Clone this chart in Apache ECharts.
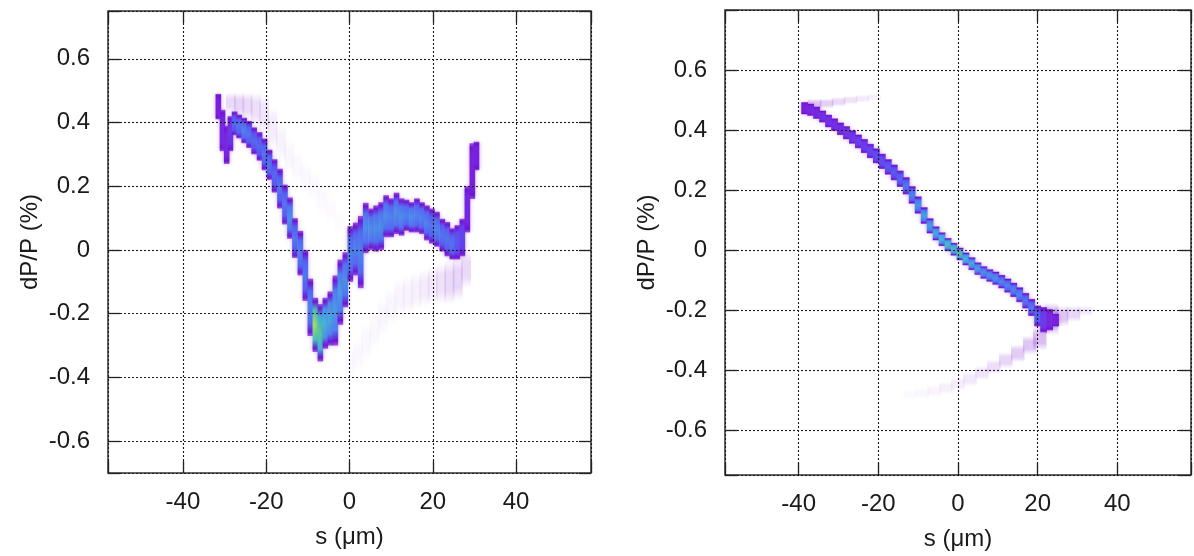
<!DOCTYPE html>
<html><head><meta charset="utf-8">
<script src="https://cdn.jsdelivr.net/npm/echarts@6/dist/echarts.min.js"></script>
<style>html,body{margin:0;padding:0;background:#fff}#c{width:1194px;height:556px}</style>
</head><body><div id="c"></div>
<script>
// ---------- data ----------
// left panel: main band columns (s in µm, dP/P low / high in %, relative density 0..1)
const leftBandS    = [-31.5,-30.5,-29.5,-28.6,-27.6,-26.5,-25.3,-24.1,-22.9,-21.6,-20.4,-19.2,-18,-16.7,-15.5,-14.3,-13.1,-11.8,-10.6,-9.4,-8.2,-7,-5.8,-4.6,-3.4,-2.2,-1,0.2,1.5,2.7,3.9,5.2,6.4,7.6,8.8,10,11.3,12.5,13.7,14.9,16.2,17.4,18.6,19.8,21,22.3,23.5,24.7,25.9,27.1,28.3,29.5,30.5];
const leftBandLo   = [0.41,0.31,0.27,0.31,0.36,0.35,0.335,0.32,0.30,0.28,0.25,0.22,0.18,0.13,0.08,0.035,-0.025,-0.08,-0.16,-0.27,-0.32,-0.35,-0.31,-0.30,-0.30,-0.235,-0.18,-0.10,-0.08,-0.12,-0.01,0.0,-0.005,0.0,0.04,0.04,0.05,0.045,0.06,0.055,0.055,0.05,0.03,0.02,0.01,-0.005,-0.02,-0.03,-0.03,-0.02,0.055,0.16,0.25];
const leftBandHi   = [0.49,0.44,0.39,0.42,0.435,0.425,0.415,0.405,0.385,0.37,0.35,0.315,0.285,0.255,0.205,0.165,0.10,0.06,0.0,-0.09,-0.15,-0.17,-0.15,-0.13,-0.08,-0.03,-0.007,0.075,0.086,0.107,0.148,0.13,0.14,0.15,0.172,0.162,0.18,0.162,0.158,0.15,0.162,0.15,0.14,0.13,0.12,0.098,0.088,0.068,0.078,0.098,0.20,0.335,0.34];
const leftBandPeak = [0,0.05,0.05,0.15,0.4,0.45,0.5,0.45,0.4,0.4,0.45,0.45,0.4,0.45,0.45,0.55,0.45,0.5,0.45,0.5,0.95,0.85,0.7,0.65,0.6,0.6,0.55,0.5,0.5,0.5,0.55,0.55,0.55,0.55,0.55,0.5,0.55,0.55,0.5,0.55,0.5,0.5,0.5,0.45,0.5,0.45,0.45,0.45,0.35,0.25,0.05,0,0];
// left panel: faint halo columns (s, low, high, opacity)
const leftHaloS  = [-28.5,-26.5,-24.5,-22.5,-20.5,-18.5,-16.5,-14.5,-12.5,-10.5,-8.5,-6.5,-4.5,-2.5, 28,26,24,22,20,18,16,14,12,10,8,6,4,2,0];
const leftHaloLo = [0.43,0.42,0.41,0.39,0.36,0.32,0.28,0.24,0.21,0.18,0.15,0.11,0.08,0.05, -0.12,-0.16,-0.17,-0.17,-0.17,-0.18,-0.19,-0.20,-0.21,-0.24,-0.27,-0.31,-0.35,-0.39,-0.42];
const leftHaloHi = [0.495,0.495,0.495,0.495,0.49,0.45,0.40,0.35,0.31,0.28,0.25,0.21,0.17,0.13, 0.0,-0.02,-0.03,-0.04,-0.05,-0.06,-0.07,-0.08,-0.09,-0.12,-0.15,-0.19,-0.23,-0.27,-0.31];
const leftHaloA  = [0.2,0.22,0.2,0.17,0.14,0.1,0.07,0.05,0.04,0.035,0.03,0.03,0.025,0.02, 0.2,0.22,0.2,0.16,0.12,0.1,0.08,0.07,0.06,0.05,0.05,0.045,0.04,0.035,0.03];

// right panel: main band columns
const rightBandS    = [-38.5,-37,-35.5,-34,-32.5,-31,-29.5,-28,-26.5,-25,-23.5,-22,-20.5,-19,-17.5,-16,-14.5,-13,-11.5,-10,-8.5,-7,-5.5,-4,-2.5,-1,0.5,2,3.5,5,6.5,8,9.5,11,12.5,14,15.5,17,18.5,20,21.5,23,24.5];
const rightBandLo   = [0.452,0.447,0.437,0.425,0.409,0.397,0.383,0.369,0.354,0.339,0.323,0.306,0.289,0.27,0.251,0.232,0.21,0.185,0.154,0.121,0.087,0.055,0.032,0.013,-0.004,-0.019,-0.034,-0.051,-0.067,-0.083,-0.096,-0.106,-0.116,-0.128,-0.142,-0.157,-0.174,-0.195,-0.22,-0.255,-0.275,-0.268,-0.255];
const rightBandHi   = [0.493,0.488,0.478,0.465,0.451,0.439,0.425,0.413,0.399,0.385,0.37,0.354,0.339,0.321,0.303,0.285,0.265,0.243,0.213,0.179,0.143,0.106,0.079,0.059,0.04,0.024,0.008,-0.008,-0.024,-0.041,-0.054,-0.064,-0.072,-0.083,-0.095,-0.109,-0.124,-0.143,-0.163,-0.185,-0.19,-0.197,-0.212];
const rightBandPeak = [0,0.05,0.05,0.1,0.1,0.1,0.1,0.15,0.15,0.2,0.2,0.25,0.3,0.3,0.35,0.35,0.4,0.45,0.5,0.55,0.6,0.6,0.65,0.7,0.75,0.75,0.8,0.7,0.65,0.6,0.55,0.55,0.55,0.5,0.5,0.5,0.5,0.45,0.45,0.4,0.2,0.05,0];
// right panel: faint streaks
const rightHaloS  = [-36,-33,-30,-27,-24,-21, 23.5,26,29,32, 20.5,18,15,12,9,6,3,0,-3,-6,-9,-12];
const rightHaloLo = [0.465,0.472,0.478,0.485,0.491,0.496, -0.285,-0.255,-0.24,-0.22, -0.335,-0.35,-0.375,-0.395,-0.415,-0.435,-0.455,-0.47,-0.482,-0.49,-0.495,-0.5];
const rightHaloHi = [0.505,0.505,0.51,0.514,0.518,0.522, -0.175,-0.185,-0.185,-0.185, -0.255,-0.285,-0.315,-0.34,-0.365,-0.385,-0.405,-0.423,-0.438,-0.45,-0.458,-0.465];
const rightHaloA  = [0.3,0.25,0.2,0.15,0.11,0.07, 0.4,0.3,0.22,0.12, 0.35,0.3,0.27,0.22,0.18,0.15,0.12,0.1,0.08,0.06,0.045,0.03];

// ---------- styling helpers ----------
const FONT = '"Liberation Sans", Arial, Helvetica, sans-serif';
const PAL = [[0,[122,31,220]],[0.3,[90,78,242]],[0.5,[74,134,240]],[0.7,[63,186,216]],[0.85,[77,212,143]],[1,[191,240,67]]];
function pal(t){
  t = Math.max(0, Math.min(1, t));
  for (let i = 1; i < PAL.length; i++) {
    if (t <= PAL[i][0]) {
      const a = PAL[i-1], b = PAL[i], f = (t - a[0]) / (b[0] - a[0]);
      const c = a[1].map((v, k) => Math.round(v + (b[1][k] - v) * f));
      return 'rgb(' + c.join(',') + ')';
    }
  }
  return 'rgb(' + PAL[PAL.length-1][1].join(',') + ')';
}
function zip4(a,b,c,d){ return a.map((s,i)=>[s,b[i],c[i],d[i]]); }

function bandRender(binW){
  return function(params, api){
    const s = api.value(0), pk = api.value(3);
    const p = api.coord([s - binW/2, api.value(2)]);
    const q = api.coord([s + binW/2, api.value(1)]);
    const edge = '#6c16d2', core = pal(pk), mid = pal(pk*0.8);
    return {
      type: 'rect',
      shape: {x: p[0], y: p[1], width: q[0]-p[0], height: q[1]-p[1]},
      style: {
        fill: {type:'linear', x:0, y:0, x2:0, y2:1, colorStops:[
          {offset:0, color:'rgba(130,40,215,0.75)'},
          {offset:0.07, color:edge},
          {offset:0.22, color:mid},
          {offset:0.5, color:core},
          {offset:0.78, color:mid},
          {offset:0.93, color:edge},
          {offset:1, color:'rgba(130,40,215,0.75)'}]},
        shadowBlur: 4, shadowColor: 'rgba(140,60,225,0.45)'
      }
    };
  };
}
function haloRender(binW){
  return function(params, api){
    const s = api.value(0), al = api.value(3);
    const p = api.coord([s - binW/2, api.value(2)]);
    const q = api.coord([s + binW/2, api.value(1)]);
    const c = 'rgba(150,70,215,' + al + ')';
    return {
      type: 'rect',
      shape: {x: p[0], y: p[1], width: q[0]-p[0], height: q[1]-p[1]},
      style: {fill: {type:'linear', x:0, y:0, x2:0, y2:1, colorStops:[
        {offset:0, color:'rgba(150,70,215,0)'},
        {offset:0.3, color:c},
        {offset:0.7, color:c},
        {offset:1, color:'rgba(150,70,215,0)'}]}}
    };
  };
}

const labelStyle = {fontSize: 24, color: '#1a1a1a', fontFamily: FONT};
const gridLine = {color:'#1a1a1a', width:1.1, type:[2,2]};
function xAx(grid, min, max, pos){
  const main = pos === 'bottom';
  return {
    type:'value', gridIndex:grid, position:pos, min:min, max:max,
    minInterval:20, maxInterval:20, splitNumber:6, z:3,
    axisLine:{show:false, onZero:false},
    axisTick:{show:true, inside:true, length:12, lineStyle:{color:'#222', width:1.3}},
    axisLabel:Object.assign({show:main, margin:17,
      formatter: v => (Math.abs(v % 20) < 1e-6 && v > min && v < max ? String(v) : '')}, labelStyle),
    splitLine:{show:main, lineStyle:gridLine},
    name: main ? 's (μm)' : '', nameLocation:'middle', nameGap:52,
    nameTextStyle: Object.assign({}, labelStyle)
  };
}
function yAx(grid, min, max, pos){
  const main = pos === 'left';
  return {
    type:'value', gridIndex:grid, position:pos, min:min, max:max,
    minInterval:0.2, maxInterval:0.2, splitNumber:7, z:3,
    axisLine:{show:false, onZero:false},
    axisTick:{show:true, inside:true, length:12, lineStyle:{color:'#222', width:1.3}},
    axisLabel:Object.assign({show:main, margin:18,
      formatter: v => (Math.abs(v*5 - Math.round(v*5)) < 1e-6 && v > min + 1e-9 && v < max - 1e-9 ? String(+v.toFixed(1)) : '')}, labelStyle),
    splitLine:{show:main, lineStyle:gridLine},
    name: main ? 'dP/P (%)' : '', nameLocation:'middle', nameGap:66,
    nameTextStyle: Object.assign({}, labelStyle)
  };
}

const chart = echarts.init(document.getElementById('c'), null, {renderer:'canvas'});
chart.setOption({
  animation:false,
  backgroundColor:'#ffffff',
  grid:[
    {left:108, top:11, width:483, height:462, show:true, borderColor:'#333', borderWidth:1.5, backgroundColor:'transparent'},
    {left:725, top:10, width:481, height:465, show:true, borderColor:'#333', borderWidth:1.5, backgroundColor:'transparent'}
  ],
  xAxis:[ xAx(0,-58,58,'bottom'), xAx(0,-58,58,'top'), xAx(1,-58.5,58.5,'bottom'), xAx(1,-58.5,58.5,'top') ],
  yAxis:[ yAx(0,-0.7,0.75,'left'), yAx(0,-0.7,0.75,'right'), yAx(1,-0.75,0.8,'left'), yAx(1,-0.75,0.8,'right') ],
  series:[
    {type:'custom', xAxisIndex:0, yAxisIndex:0, z:1, renderItem:haloRender(2.4),
     data: zip4(leftHaloS,leftHaloLo,leftHaloHi,leftHaloA), encode:{x:0, y:[1,2]}},
    {type:'custom', xAxisIndex:0, yAxisIndex:0, z:2, renderItem:bandRender(1.35),
     data: zip4(leftBandS,leftBandLo,leftBandHi,leftBandPeak), encode:{x:0, y:[1,2]}},
    {type:'custom', xAxisIndex:2, yAxisIndex:2, z:1, renderItem:haloRender(3.4),
     data: zip4(rightHaloS,rightHaloLo,rightHaloHi,rightHaloA), encode:{x:0, y:[1,2]}},
    {type:'custom', xAxisIndex:2, yAxisIndex:2, z:2, renderItem:bandRender(1.7),
     data: zip4(rightBandS,rightBandLo,rightBandHi,rightBandPeak), encode:{x:0, y:[1,2]}}
  ]
});
</script></body></html>
